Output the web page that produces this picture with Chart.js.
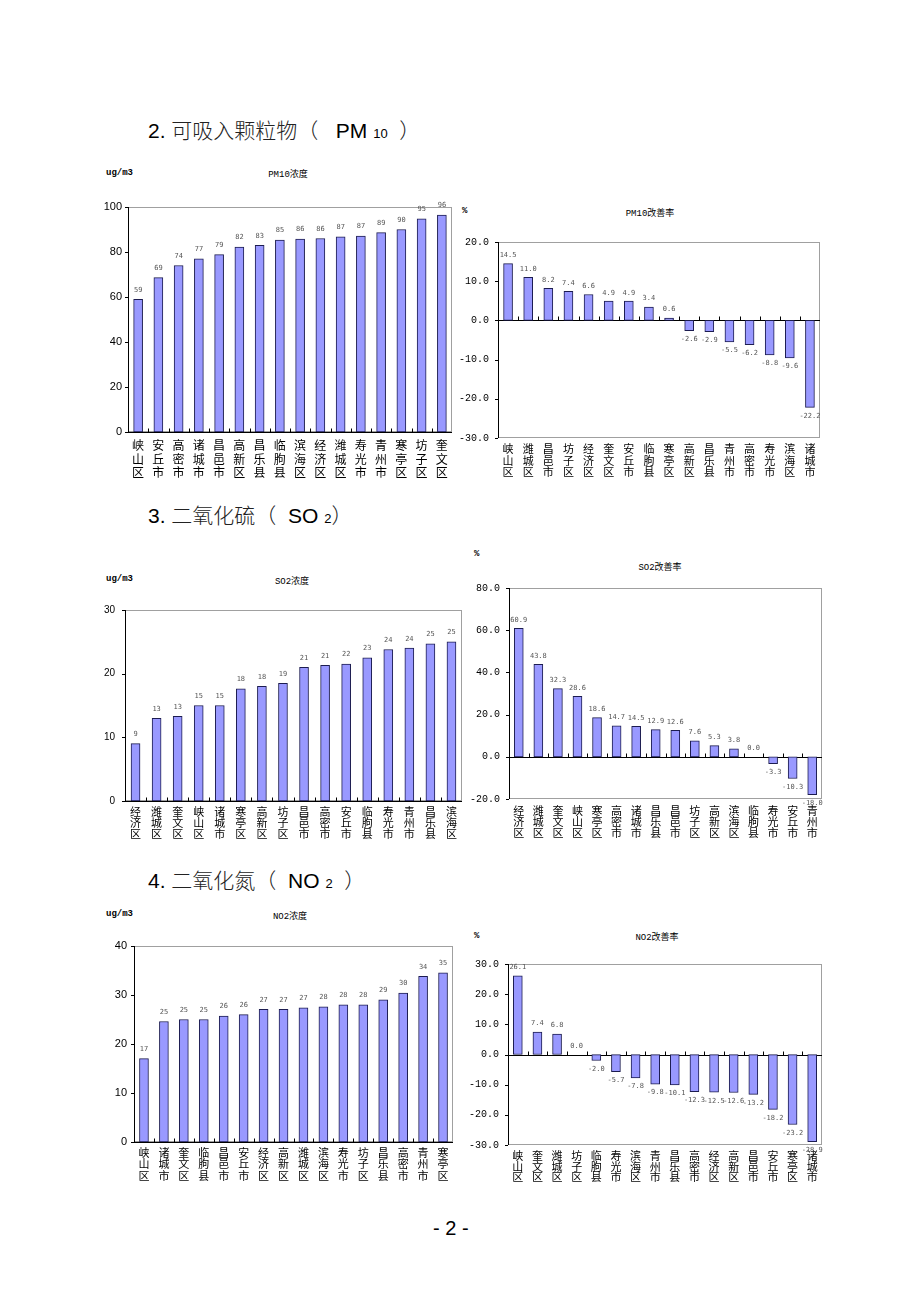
<!DOCTYPE html>
<html><head><meta charset="utf-8">
<script src="https://cdn.jsdelivr.net/npm/chart.js@4/dist/chart.umd.min.js"></script>
<style>
body{margin:0;background:#fff;width:920px;height:1303px;position:relative;overflow:hidden;font-family:"Liberation Sans",Arial,sans-serif;}
.h{position:absolute;font-size:21px;line-height:24px;color:#000;white-space:pre;font-family:"Liberation Sans","Noto Sans CJK SC",sans-serif;}
.h .cn{font-family:"Noto Sans CJK SC",sans-serif;font-weight:300;color:#222;}
.h .sm{font-size:13px;}
.t{position:absolute;transform:translate(-50%,-50%);font-size:9px;color:#000;white-space:nowrap;font-family:"Liberation Mono","Noto Sans CJK SC",monospace;}
.u{position:absolute;transform:translate(0,-50%);font-size:9px;color:#000;white-space:nowrap;font-family:"Liberation Mono",monospace;font-weight:bold;}
.cv{position:absolute;}
</style>
</head><body>
<div class="h" style="left:148px;top:117px">2. <span class="cn">可吸入颗粒物（</span>   PM <span class="sm">10</span>  <span class="cn">）</span></div>
<div class="h" style="left:148px;top:502px">3. <span class="cn">二氧化硫（</span>  SO <span class="sm">2</span><span class="cn">）</span></div>
<div class="h" style="left:148px;top:867px">4. <span class="cn">二氧化氮（</span>  NO <span class="sm">2</span>  <span class="cn">）</span></div>
<div class="h" style="left:433px;top:1216px;font-size:20px">- 2 -</div>

<div class="u" style="left:106px;top:173px">ug/m3</div><div class="t" style="left:288px;top:173px">PM10浓度</div>
<div class="u" style="left:462px;top:211px">%</div><div class="t" style="left:650px;top:212px">PM10改善率</div>
<div class="u" style="left:106px;top:579px">ug/m3</div><div class="t" style="left:292px;top:580px">SO2浓度</div>
<div class="u" style="left:474px;top:554px">%</div><div class="t" style="left:660px;top:566px">SO2改善率</div>
<div class="u" style="left:106px;top:914px">ug/m3</div><div class="t" style="left:290px;top:915px">NO2浓度</div>
<div class="u" style="left:474px;top:936px">%</div><div class="t" style="left:657px;top:936px">NO2改善率</div>

<script>
// ---- data ----
const pm10Cats = ['峡山区','安丘市','高密市','诸城市','昌邑市','高新区','昌乐县','临朐县','滨海区','经济区','潍城区','寿光市','青州市','寒亭区','坊子区','奎文区'];
const pm10Vals = [59.0,68.6,74.0,77.0,78.8,82.2,83.0,85.3,85.7,86.0,86.7,87.1,88.6,90.0,94.7,96.4];
const pm10Ticks = [0,20,40,60,80,100];

const pm10RateCats = ['峡山区','潍城区','昌邑市','坊子区','经济区','奎文区','安丘市','临朐县','寒亭区','高新区','昌乐县','青州市','高密市','寿光市','滨海区','诸城市'];
const pm10RateVals = [14.5,11.0,8.2,7.4,6.6,4.9,4.9,3.4,0.6,-2.6,-2.9,-5.5,-6.2,-8.8,-9.6,-22.2];
const pm10RateTicks = [-30,-20,-10,0,10,20];

const so2Cats = ['经济区','潍城区','奎文区','峡山区','诸城市','寒亭区','高新区','坊子区','昌邑市','高密市','安丘市','临朐县','寿光市','青州市','昌乐县','滨海区'];
const so2Vals = [9.0,13.0,13.3,15.0,15.0,17.6,18.0,18.5,21.0,21.3,21.5,22.5,23.8,24.0,24.7,25.0];
const so2Ticks = [0,10,20,30];

const so2RateCats = ['经济区','潍城区','奎文区','峡山区','寒亭区','高密市','诸城市','昌乐县','昌邑市','坊子区','高新区','滨海区','临朐县','寿光市','安丘市','青州市'];
const so2RateVals = [60.9,43.8,32.3,28.6,18.6,14.7,14.5,12.9,12.6,7.6,5.3,3.8,0.0,-3.3,-10.3,-18.0];
const so2RateTicks = [-20,0,20,40,60,80];

const no2Cats = ['峡山区','诸城市','奎文区','临朐县','昌邑市','安丘市','经济区','高新区','潍城区','滨海区','寿光市','坊子区','昌乐县','高密市','青州市','寒亭区'];
const no2Vals = [17.0,24.6,25.0,25.0,25.7,26.0,27.1,27.1,27.4,27.6,28.0,28.0,29.0,30.4,33.8,34.5];
const no2Ticks = [0,10,20,30,40];

const no2RateCats = ['峡山区','奎文区','潍城区','坊子区','临朐县','寿光市','滨海区','青州市','昌乐县','高密市','经济区','高新区','昌邑市','安丘市','寒亭区','诸城市'];
const no2RateVals = [26.1,7.4,6.8,0.0,-2.0,-5.7,-7.8,-9.8,-10.1,-12.3,-12.5,-12.6,-13.2,-18.2,-23.2,-28.9];
const no2RateTicks = [-30,-20,-10,0,10,20,30];

// ---- plugins ----
const framePlugin = {
  id:'frame',
  beforeDatasetsDraw(chart){
    const {ctx, chartArea:a, scales:{x,y}} = chart;
    ctx.save();
    ctx.lineWidth = 1;
    ctx.strokeStyle = '#a0a0a0';
    ctx.strokeRect(Math.round(a.left)+0.5, Math.round(a.top)+0.5, Math.round(a.right-a.left)-1, Math.round(a.bottom-a.top)-1);
    ctx.strokeStyle = '#000';
    ctx.beginPath();
    const lx = Math.round(a.left)+0.5;
    ctx.moveTo(lx, a.top); ctx.lineTo(lx, a.bottom);
    const y0 = Math.round(y.getPixelForValue(0))+0.5;
    ctx.moveTo(a.left, y0); ctx.lineTo(a.right, y0);
    const n = chart.data.labels.length;
    for(let i=1;i<n;i++){
      const xp = Math.round((x.getPixelForValue(i-1)+x.getPixelForValue(i))/2)+0.5;
      ctx.moveTo(xp, y0); ctx.lineTo(xp, y0-4);
    }
    y.ticks.forEach(t=>{
      const yp = Math.round(y.getPixelForValue(t.value))+0.5;
      ctx.moveTo(a.left-3, yp); ctx.lineTo(a.left, yp);
    });
    ctx.stroke();
    ctx.restore();
  }
};
const labelPlugin = {
  id:'vlabels',
  afterDatasetsDraw(chart, args, opts){
    const {ctx} = chart;
    const meta = chart.getDatasetMeta(0);
    const data = chart.data.datasets[0].data;
    ctx.save();
    ctx.font = '7px "DejaVu Sans Mono", monospace';
    ctx.fillStyle = '#555';
    ctx.textAlign = 'center';
    meta.data.forEach((bar,i)=>{
      const v = data[i];
      const t = opts.dec ? v.toFixed(opts.dec) : String(Math.round(v));
      if(v >= 0){ ctx.textBaseline='bottom'; ctx.fillText(t, bar.x, bar.y - opts.off); }
      else { ctx.textBaseline='top'; ctx.fillText(t, bar.x, bar.y + opts.off); }
    });
    ctx.restore();
  }
};

function makeChart(c){
  const yw = c.yw, tp = 14, rp = 6, xh = 50;
  const left = c.L - yw, top = c.T - tp;
  const W = c.R + rp - left, H = c.B + xh - top;
  const cv = document.createElement('canvas');
  cv.className = 'cv';
  cv.width = W; cv.height = H;
  cv.style.left = left+'px'; cv.style.top = top+'px';
  cv.style.width = W+'px'; cv.style.height = H+'px';
  document.body.appendChild(cv);
  const ticks = c.ticks;
  new Chart(cv, {
    type:'bar',
    data:{ labels: c.cats.map(s=>s.split('')), datasets:[{ data:c.vals, backgroundColor:'#9999FF', borderColor:'#1c1c50', borderWidth:1, borderSkipped:false, barThickness:9 }] },
    options:{
      responsive:false, devicePixelRatio:1, animation:false,
      layout:{ padding:{ top:tp, right:rp, left:0, bottom:0 } },
      plugins:{ legend:{display:false}, tooltip:{enabled:false}, vlabels:{ dec:c.dec, off:c.off } },
      scales:{
        x:{
          grid:{display:false, drawTicks:false}, border:{display:false},
          ticks:{ autoSkip:false, maxRotation:0, minRotation:0, padding:c.xp, color:'#000',
            font:{ family:'"Noto Sans CJK SC", sans-serif', size:c.xf, lineHeight:c.xlh } },
          afterFit(s){ s.height = xh; }
        },
        y:{
          min: ticks[0], max: ticks[ticks.length-1],
          grid:{display:false, drawTicks:false}, border:{display:false},
          afterBuildTicks(s){ s.ticks = ticks.map(v=>({value:v})); },
          ticks:{ padding:c.yp, color:'#000', font:{ family:c.yfam, size:c.yf },
            callback:(v)=> c.dec ? Number(v).toFixed(1) : String(v) },
          afterFit(s){ s.width = yw; }
        }
      }
    },
    plugins:[framePlugin, labelPlugin]
  });
}

const sans = '"Liberation Sans", Arial, sans-serif';
const mono = '"Liberation Mono", monospace';
makeChart({cats:pm10Cats, vals:pm10Vals, ticks:pm10Ticks, L:128, T:207, R:452, B:432, yw:40, yp:6, yf:11, yfam:sans, xf:12, xlh:1.11, xp:7, dec:0, off:6});
makeChart({cats:pm10RateCats, vals:pm10RateVals, ticks:pm10RateTicks, L:498, T:241, R:820, B:438, yw:45, yp:9, yf:10, yfam:mono, xf:11, xlh:1.03, xp:5.5, dec:1, off:5});
makeChart({cats:so2Cats, vals:so2Vals, ticks:so2Ticks, L:125, T:608, R:462, B:801, yw:36, yp:10, yf:10, yfam:sans, xf:11, xlh:0.98, xp:5.5, dec:0, off:6});
makeChart({cats:so2RateCats, vals:so2RateVals, ticks:so2RateTicks, L:509, T:587, R:822, B:799, yw:45, yp:9, yf:10, yfam:mono, xf:11, xlh:0.96, xp:7, dec:1, off:5});
makeChart({cats:no2Cats, vals:no2Vals, ticks:no2Ticks, L:134, T:946, R:453, B:1142, yw:40, yp:7, yf:11, yfam:sans, xf:11, xlh:1.06, xp:4.5, dec:0, off:6});
makeChart({cats:no2RateCats, vals:no2RateVals, ticks:no2RateTicks, L:508, T:963, R:822, B:1145, yw:45, yp:9, yf:10, yfam:mono, xf:11, xlh:0.96, xp:5.5, dec:1, off:5});
</script>
</body></html>
